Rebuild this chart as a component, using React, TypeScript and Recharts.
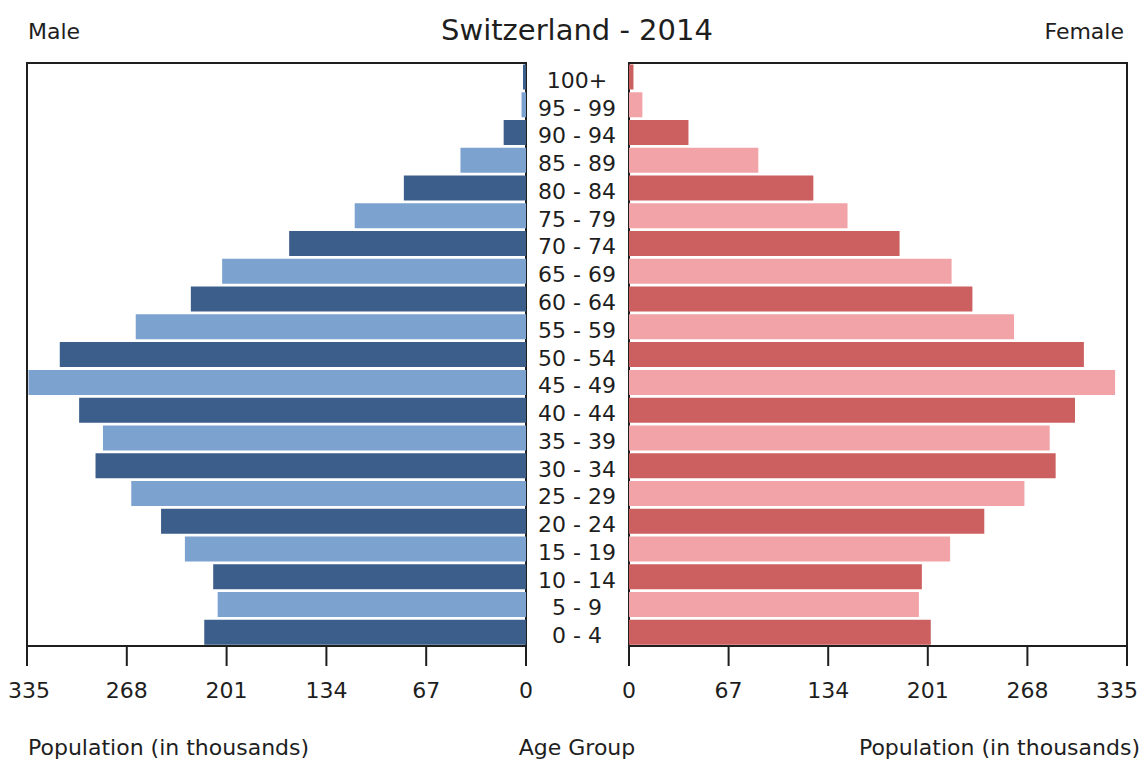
import React from 'react';
import { BarChart, Bar, XAxis, YAxis, Cell, ReferenceArea } from 'recharts';

const ageGroups = [
  '100+', '95 - 99', '90 - 94', '85 - 89', '80 - 84', '75 - 79', '70 - 74',
  '65 - 69', '60 - 64', '55 - 59', '50 - 54', '45 - 49', '40 - 44', '35 - 39',
  '30 - 34', '25 - 29', '20 - 24', '15 - 19', '10 - 14', '5 - 9', '0 - 4',
];
const male = [2, 3, 15, 44, 82, 115, 159, 204, 225, 262, 313, 334, 300, 284, 289, 265, 245, 229, 210, 207, 216];
const female = [3, 9, 40, 87, 124, 147, 182, 217, 231, 259, 306, 327, 300, 283, 287, 266, 239, 216, 197, 195, 203];
const xTicks = [0, 67, 134, 201, 268, 335];

const rows = ageGroups.map((age, i) => ({ age, male: male[i], female: female[i] }));

const FONT = '"DejaVu Sans", sans-serif';
const INK = '#1e1e1e';
const maleColors = ['#3c5e8b', '#7ca2cf'];
const femaleColors = ['#cc5f5f', '#f2a3a7'];

const AgeTick = ({ x, y, payload }: any) => (
  <text x={x + 51} y={y} dy="0.5em" textAnchor="middle" fontSize={22} fontFamily={FONT} fill={INK}>
    {payload.value}
  </text>
);

// value ticks; the outermost label is nudged inwards so it stays on the page
const ValueTick = ({ x, y, payload, shift }: any) => (
  <text x={x + (payload.value === 335 ? shift : 0)} y={y} dy="0.71em" textAnchor="middle"
    fontSize={22} fontFamily={FONT} fill={INK}>
    {payload.value}
  </text>
);

const label = (text: string, style: React.CSSProperties) => (
  <div style={{ position: 'absolute', fontFamily: FONT, fontSize: 22, lineHeight: '22px', color: INK, whiteSpace: 'nowrap', ...style }}>
    {text}
  </div>
);

const App = () => {
  const line = { stroke: INK, strokeWidth: 2 };
  return (
    <div style={{ position: 'absolute', left: 0, top: 0, width: 1146, height: 762, background: '#fff', overflow: 'hidden' }}>
      <div style={{ position: 'absolute', left: 0, top: 0 }}>
        <BarChart width={629} height={762} data={rows} layout="vertical"
          margin={{ top: 61, right: 0, bottom: 62, left: 27 }} barCategoryGap={1.5}>
          <XAxis type="number" domain={[0, 335]} ticks={xTicks} reversed height={54} interval={0}
            tickSize={20} tickMargin={16} tick={<ValueTick shift={2} />} axisLine={line} tickLine={line} />
          <YAxis type="category" dataKey="age" orientation="right" width={103} padding={{ top: 2, bottom: 0 }}
            axisLine={false} tickLine={false} tickSize={0} tickMargin={0} tick={<AgeTick />} interval={0} />
          <Bar dataKey="male" isAnimationActive={false}>
            {rows.map((_, i) => <Cell key={i} fill={maleColors[i % 2]} />)}
          </Bar>
          <ReferenceArea x1={0} x2={335} fill="none" stroke={INK} strokeWidth={2} ifOverflow="visible" />
        </BarChart>
      </div>
      <div style={{ position: 'absolute', left: 599, top: 0 }}>
        <BarChart width={547} height={762} data={rows} layout="vertical"
          margin={{ top: 61, right: 19, bottom: 62, left: 30 }} barCategoryGap={1.5}>
          <XAxis type="number" domain={[0, 335]} ticks={xTicks} height={54} interval={0}
            tickSize={20} tickMargin={16} tick={<ValueTick shift={-10} />} axisLine={line} tickLine={line} />
          <YAxis type="category" dataKey="age" hide padding={{ top: 2, bottom: 0 }} />
          <Bar dataKey="female" isAnimationActive={false}>
            {rows.map((_, i) => <Cell key={i} fill={femaleColors[i % 2]} />)}
          </Bar>
          <ReferenceArea x1={0} x2={335} fill="none" stroke={INK} strokeWidth={2} ifOverflow="visible" />
        </BarChart>
      </div>
      {label('Switzerland - 2014', { left: 0, width: 1154, textAlign: 'center', top: 16, fontSize: 29, lineHeight: '29px' })}
      {label('Male', { left: 28, top: 21 })}
      {label('Female', { right: 22, top: 21 })}
      {label('Population (in thousands)', { left: 28, top: 737 })}
      {label('Age Group', { left: 0, width: 1154, textAlign: 'center', top: 737 })}
      {label('Population (in thousands)', { right: 6, top: 737 })}
    </div>
  );
};

export default App;
